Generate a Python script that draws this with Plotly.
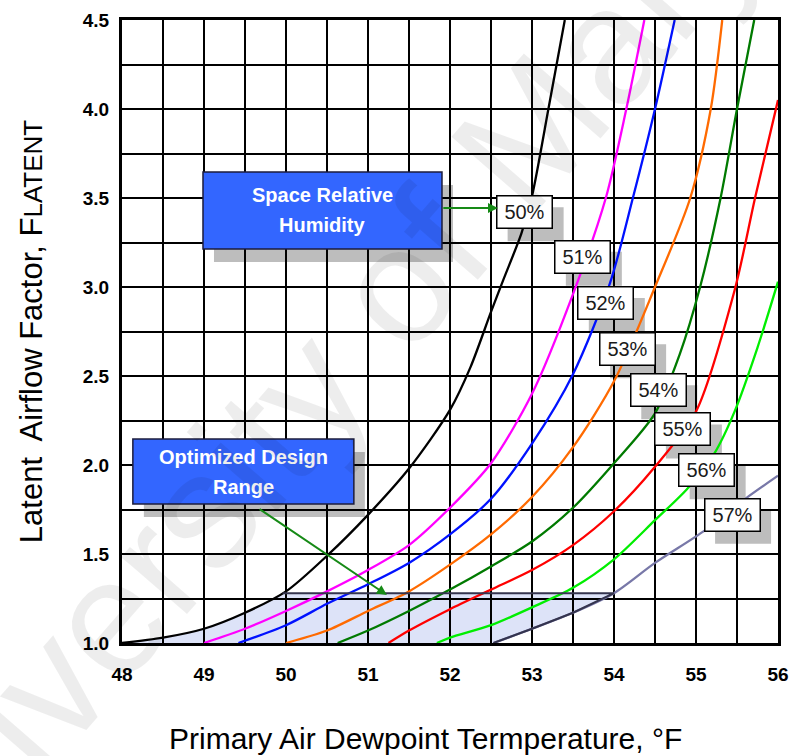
import plotly.graph_objects as go
import numpy as np

# ---------------- data ----------------
rh_labels = ["50%", "51%", "52%", "53%", "54%", "55%", "56%", "57%"]
rh_colors = ["#000000", "#ff00ff", "#0011ff", "#ff6a00", "#007a00", "#ff0000", "#00ee00", "#7878a8"]

x50 = [48.0, 48.5, 49.0, 49.5, 50.0, 50.5, 51.0, 51.5, 52.0, 52.25, 52.5, 52.65, 52.87, 53.0, 53.2, 53.4]
y50 = [1.0, 1.03, 1.08, 1.17, 1.29, 1.49, 1.72, 1.98, 2.31, 2.55, 2.86, 3.04, 3.30, 3.51, 4.0, 4.5]

x51 = [49.0, 49.5, 50.0, 50.5, 51.0, 51.5, 52.0, 52.5, 53.0, 53.5, 53.9, 54.15, 54.37]
y51 = [1.0, 1.08, 1.18, 1.29, 1.41, 1.55, 1.76, 2.01, 2.40, 2.96, 3.5, 4.0, 4.5]

x52 = [49.42, 50.0, 50.5, 51.0, 51.5, 52.0, 52.5, 53.0, 53.5, 53.95, 54.23, 54.5, 54.74]
y52 = [1.0, 1.10, 1.22, 1.33, 1.45, 1.61, 1.81, 2.12, 2.51, 3.02, 3.5, 4.0, 4.5]

x53 = [50.0, 50.5, 51.0, 51.5, 52.0, 52.5, 53.0, 53.5, 54.0, 54.5, 54.93, 55.18, 55.32]
y53 = [1.0, 1.07, 1.18, 1.29, 1.44, 1.61, 1.82, 2.10, 2.47, 3.0, 3.5, 4.0, 4.5]

x54 = [50.63, 51.0, 51.5, 52.0, 52.5, 53.0, 53.5, 54.0, 54.5, 54.8, 55.05, 55.3, 55.5, 55.71]
y54 = [1.0, 1.07, 1.18, 1.30, 1.43, 1.57, 1.76, 2.01, 2.29, 2.62, 3.0, 3.5, 4.0, 4.5]

x55 = [51.25, 51.5, 52.0, 52.5, 53.0, 53.5, 54.0, 54.5, 55.0, 55.47, 55.72, 56.0]
y55 = [1.0, 1.07, 1.19, 1.30, 1.41, 1.55, 1.74, 1.99, 2.30, 2.98, 3.5, 4.05]

x56 = [51.84, 52.0, 52.5, 53.0, 53.5, 54.0, 54.5, 54.9, 55.23, 55.47, 55.75, 56.0]
y56 = [1.0, 1.03, 1.10, 1.20, 1.31, 1.47, 1.69, 1.87, 2.07, 2.30, 2.66, 3.03]

x57 = [52.53, 53.0, 53.5, 54.0, 54.5, 55.1, 55.6, 56.0]
y57 = [1.0, 1.08, 1.17, 1.28, 1.45, 1.63, 1.81, 1.94]

curves_x = [x50, x51, x52, x53, x54, x55, x56, x57]
curves_y = [y50, y51, y52, y53, y54, y55, y56, y57]

# label positions (data coords)
label_x = [52.91, 53.62, 53.90, 54.16, 54.54, 54.84, 55.13, 55.44]
label_y = [3.42, 3.17, 2.91, 2.65, 2.42, 2.20, 1.97, 1.72]

design_top = 1.28

x_ticks = [48, 49, 50, 51, 52, 53, 54, 55, 56]
y_ticks = [1.0, 1.5, 2.0, 2.5, 3.0, 3.5, 4.0, 4.5]

x_title = "Primary Air Dewpoint Termperature, °F"
y_title = "Latent&nbsp; Airflow Factor, F<span style='font-size:26px'>LATENT</span>"

FONT = "Liberation Sans, Arial, sans-serif"

fig = go.Figure()

# ---- optimized design range region (below grid) ----
bx, by = np.array(x50), np.array(y50)
sx, sy = np.array(x57), np.array(y57)
xb_top = float(np.interp(design_top, by, bx))
xs_top = float(np.interp(design_top, sy, sx))
poly = [(x, y) for x, y in zip(bx, by) if y < design_top] + [(xb_top, design_top), (xs_top, design_top)]
poly += [(x, y) for x, y in zip(sx[::-1], sy[::-1]) if y < design_top]
path = "M " + " L ".join(f"{x},{y}" for x, y in poly) + " Z"
fig.add_shape(type="path", path=path, xref="x", yref="y", layer="below",
              fillcolor="#dde3f8", line=dict(width=0))

# ---- curves ----
for xs, ys, c, lab in zip(curves_x, curves_y, rh_colors, rh_labels):
    fig.add_trace(go.Scatter(x=xs, y=ys, mode="lines", name=lab,
                             line=dict(color=c, width=2.3, shape="spline", smoothing=0.8),
                             showlegend=False, hoverinfo="skip"))

# dark outline of the design region (top edge + lower part of 57% curve)
ox = [xb_top, xs_top] + [x for x, y in zip(sx[::-1], sy[::-1]) if y < design_top]
oy = [design_top, design_top] + [y for x, y in zip(sx[::-1], sy[::-1]) if y < design_top]
fig.add_trace(go.Scatter(x=ox, y=oy, mode="lines", line=dict(color="#34344e", width=2),
                         showlegend=False, hoverinfo="skip"))

# ---- percentage labels with shadows ----
for lx, ly, lab in zip(label_x, label_y, rh_labels):
    fig.add_shape(type="rect", xref="x", yref="y", layer="below",
                  xsizemode="pixel", ysizemode="pixel", xanchor=lx, yanchor=ly,
                  x0=-28 + 11, x1=28 + 11, y0=-17 - 12, y1=17 - 12,
                  fillcolor="#bdbdbd", line=dict(width=0))
    fig.add_annotation(x=lx, y=ly, xref="x", yref="y", text=lab, showarrow=False,
                       font=dict(family=FONT, size=20, color="#1a1a1a"),
                       bgcolor="white", bordercolor="black", borderwidth=1.5,
                       borderpad=3, width=48, height=25)

# ---- blue call-out boxes ----
boxes = [
    dict(cx=50.445, cy=3.43, w=239, h=77, lines=["Space Relative", "Humidity"]),
    dict(cx=49.48, cy=1.963, w=221, h=65, lines=["Optimized Design", "Range"]),
]
for b in boxes:
    fig.add_shape(type="rect", xref="x", yref="y", layer="below",
                  xsizemode="pixel", ysizemode="pixel", xanchor=b["cx"], yanchor=b["cy"],
                  x0=-b["w"] / 2 + 11, x1=b["w"] / 2 + 11, y0=-b["h"] / 2 - 13, y1=b["h"] / 2 - 13,
                  fillcolor="#bdbdbd", line=dict(width=0))
    fig.add_shape(type="rect", xref="x", yref="y", layer="above",
                  xsizemode="pixel", ysizemode="pixel", xanchor=b["cx"], yanchor=b["cy"],
                  x0=-b["w"] / 2, x1=b["w"] / 2, y0=-b["h"] / 2, y1=b["h"] / 2,
                  fillcolor="#3366ff", line=dict(color="#1c1c3c", width=1.5))
    for i, t in enumerate(b["lines"]):
        fig.add_annotation(x=b["cx"], y=b["cy"], xref="x", yref="y", text=t, showarrow=False,
                           yshift=15 - 30 * i,
                           font=dict(family=FONT, size=20, color="white", weight="bold"))

# ---- arrows ----
fig.add_annotation(x=52.585, y=3.444, ax=51.9, ay=3.444, xref="x", yref="y", axref="x", ayref="y",
                   text="", showarrow=True, arrowhead=2, arrowsize=1, arrowwidth=2,
                   arrowcolor="#168a16", standoff=0, startstandoff=0)
fig.add_annotation(x=51.23, y=1.27, ax=49.66, ay=1.758, xref="x", yref="y", axref="x", ayref="y",
                   text="", showarrow=True, arrowhead=2, arrowsize=1, arrowwidth=2,
                   arrowcolor="#168a16", standoff=0, startstandoff=0)

# ---- x-axis title (slightly left of centre, as in the original) ----
fig.add_annotation(x=0.462, y=-0.1525, xref="paper", yref="paper", text=x_title,
                   showarrow=False, xanchor="center", yanchor="middle",
                   font=dict(family=FONT, size=30, color="black"))

# ---- faint watermark ----
fig.add_annotation(x=0.416, y=0.57, xref="paper", yref="paper", text="University of Maryland",
                   showarrow=False, textangle=-49,
                   font=dict(family=FONT, size=165, color="rgba(0,0,0,0.07)"))

fig.update_layout(
    width=792, height=756,
    margin=dict(l=122, r=14, t=20, b=113, autoexpand=False),
    paper_bgcolor="white", plot_bgcolor="rgba(0,0,0,0)",
    font=dict(family=FONT, color="black"),
    xaxis=dict(range=[48, 56], tickvals=x_ticks, ticktext=[str(v) for v in x_ticks],
               automargin=False,
               showgrid=True, gridcolor="black", gridwidth=1.5,
               minor=dict(dtick=0.5, showgrid=True, gridcolor="black", gridwidth=1.5),
               showline=True, mirror=True, linecolor="black", linewidth=3,
               zeroline=False, ticks="", ticklabelstandoff=12,
               tickfont=dict(family=FONT, size=19, weight="bold", color="black")),
    yaxis=dict(range=[1, 4.5], tickvals=y_ticks, ticktext=[f"{v:.1f}" for v in y_ticks],
               automargin=False,
               showgrid=True, gridcolor="black", gridwidth=1.5,
               minor=dict(dtick=0.25, showgrid=True, gridcolor="black", gridwidth=1.5),
               showline=True, mirror=True, linecolor="black", linewidth=3,
               zeroline=False, ticks="", ticklabelstandoff=6,
               tickfont=dict(family=FONT, size=19, weight="bold", color="black"),
               title=dict(text=y_title, standoff=31,
                          font=dict(family=FONT, size=31, color="black"))),
)

fig.write_html("out.html", config={"displayModeBar": False},
               post_script="document.body.style.margin='0px';document.body.style.overflow='hidden';")
